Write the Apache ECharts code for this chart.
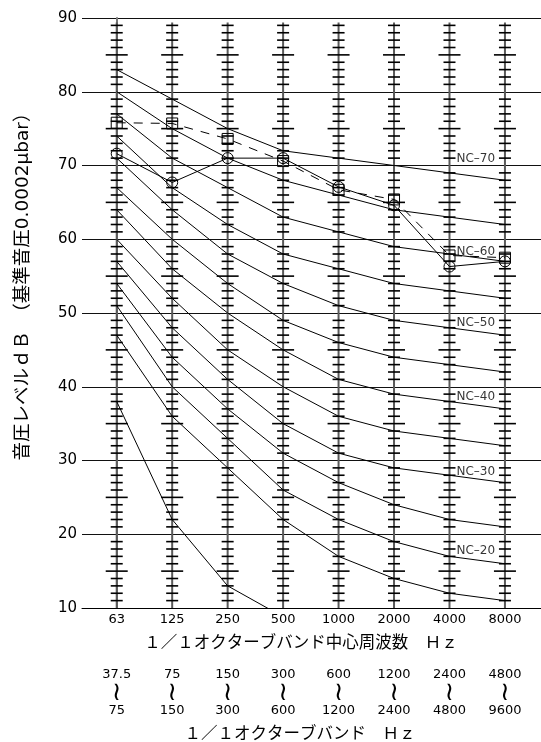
<!DOCTYPE html>
<html>
<head>
<meta charset="utf-8">
<script src="https://cdn.jsdelivr.net/npm/echarts@6/dist/echarts.min.js"></script>
<style>
html,body{margin:0;padding:0;background:#fff;}
#chart{width:541px;height:742px;}
</style>
</head>
<body>
<div id="chart"></div>
<script>
// Octave band centre frequencies (Hz)
const categories = ['63', '125', '250', '500', '1000', '2000', '4000', '8000'];
// Octave band limits (Hz)
const bandLow  = ['37.5', '75', '150', '300', '600', '1200', '2400', '4800'];
const bandHigh = ['75', '150', '300', '600', '1200', '2400', '4800', '9600'];

// NC curves (dB) at the 8 octave bands
const ncBase = [38, 22, 13, 8.8];               // lowest curve (runs off the bottom)
const nc15 = [47, 36, 29, 22, 17, 14, 12, 11];
const nc20 = [51, 40, 33, 26, 22, 19, 17, 16];
const nc25 = [54, 44, 37, 31, 27, 24, 22, 21];
const nc30 = [57, 48, 41, 35, 31, 29, 28, 27];
const nc35 = [60, 52, 45, 40, 36, 34, 33, 32];
const nc40 = [64, 56, 50, 45, 41, 39, 38, 37];
const nc45 = [67, 60, 54, 49, 46, 44, 43, 42];
const nc50 = [71, 64, 58, 54, 51, 49, 48, 47];
const nc55 = [74, 67, 62, 58, 56, 54, 53, 52];
const nc60 = [77, 71, 67, 63, 61, 59, 58, 57];
const nc65 = [80, 75, 71, 68, 66, 64, 63, 62];
const nc70 = [83, 79, 75, 72, 71, 70, 69, 68];

// Measured spectra (dB)
const measuredCircle = [71.6, 67.7, 71.0, 71.0, 67.1, 64.6, 56.3, 57.0];
const measuredSquare = [75.8, 75.7, 73.6, 70.6, 66.7, 65.4, 57.8, 57.5];

// NC curve labels (placed beside the 4000 Hz column) and their level (dB)
const ncLabelText  = ['NC–70', 'NC–60', 'NC–50', 'NC–40', 'NC–30', 'NC–20'];
const ncLabelLevel = [70.9, 58.3, 48.6, 38.6, 28.4, 17.8];
const ncLabelBand  = 6;

const ncCurves = [ncBase, nc15, nc20, nc25, nc30, nc35, nc40, nc45, nc50, nc55, nc60, nc65, nc70];

const idx = categories.map((c, i) => i);
const toXY = arr => arr.map((v, i) => [i, v]);

const chart = echarts.init(document.getElementById('chart'), null, {renderer: 'canvas'});

const series = [];

// Column scales at each band
series.push({
  type: 'custom',
  silent: true,
  z: 1,
  xAxisIndex: 0, yAxisIndex: 0,
  data: idx.map(i => [i, 50]),
  renderItem: function (params, api) {
    const x = api.value(0);
    const top = api.coord([x, 89.4]);
    const bot = api.coord([x, 10]);
    const children = [{
      type: 'line',
      shape: {x1: top[0], y1: top[1], x2: bot[0], y2: bot[1]},
      style: {stroke: '#5a5a5a', lineWidth: 2}
    }];
    for (let v = 11; v <= 89; v++) {
      if (v % 10 === 0) continue;
      const p = api.coord([x, v]);
      const h = (v % 5 === 0) ? 11 : 6;
      children.push({
        type: 'line',
        shape: {x1: p[0] - h, y1: p[1], x2: p[0] + h, y2: p[1]},
        style: {stroke: '#000', lineWidth: 1.6}
      });
    }
    return {type: 'group', children: children};
  }
});

ncCurves.forEach(c => {
  series.push({
    type: 'line',
    data: toXY(c),
    symbol: 'none',
    silent: true,
    clip: true,
    z: 3,
    lineStyle: {color: '#000', width: 1}
  });
});

series.push({
  type: 'line',
  data: toXY(measuredSquare),
  symbol: 'rect',
  symbolSize: [11, 11],
  z: 4,
  lineStyle: {color: '#000', width: 1, type: [9, 8]},
  itemStyle: {color: 'rgba(0,0,0,0)', borderColor: '#000', borderWidth: 1}
});
series.push({
  type: 'line',
  data: toXY(measuredCircle),
  symbol: 'circle',
  symbolSize: 11,
  z: 4,
  lineStyle: {color: '#000', width: 1},
  itemStyle: {color: 'rgba(0,0,0,0)', borderColor: '#000', borderWidth: 1}
});

series.push({
  type: 'scatter',
  symbolSize: 0,
  silent: true,
  z: 5,
  data: ncLabelText.map((t, i) => ({name: t, value: [ncLabelBand, ncLabelLevel[i]]})),
  label: {
    show: true,
    position: 'right',
    distance: 7,
    formatter: p => p.name,
    fontFamily: 'DejaVu Sans',
    fontSize: 12,
    color: '#000'
  }
});

const option = {
  animation: false,
  backgroundColor: '#fff',
  grid: {left: 82, right: 0, top: 18, bottom: 134, containLabel: false},
  xAxis: [{
    type: 'value',
    min: -0.626,
    max: 7.65,
    axisLine: {show: true, lineStyle: {color: '#000', width: 1}},
    axisTick: {show: false},
    splitLine: {show: false},
    axisLabel: {
      customValues: idx,
      formatter: v => categories[Math.round(v)],
      fontFamily: 'DejaVu Sans',
      fontSize: 13,
      color: '#000',
      margin: 5
    }
  }, {
    type: 'value',
    min: -0.626,
    max: 7.65,
    position: 'bottom',
    offset: 52,
    axisLine: {show: false},
    axisTick: {show: false},
    splitLine: {show: false},
    axisLabel: {
      customValues: idx,
      formatter: v => {
        const i = Math.round(v);
        return '{a|' + bandLow[i] + '}\n{s|≀}\n{a|' + bandHigh[i] + '}';
      },
      margin: 6,
      rich: {
        a: {fontFamily: 'DejaVu Sans', fontSize: 13, color: '#000', lineHeight: 18},
        s: {fontFamily: 'DejaVu Sans', fontSize: 26, color: '#000', lineHeight: 18}
      }
    }
  }],
  yAxis: {
    type: 'value',
    min: 10,
    max: 90,
    interval: 10,
    axisLine: {show: true, lineStyle: {color: '#777', width: 2}},
    axisTick: {show: false},
    splitLine: {show: true, lineStyle: {color: '#111', width: 1}},
    axisLabel: {
      fontFamily: 'DejaVu Sans',
      fontSize: 15,
      color: '#000',
      margin: 5
    }
  },
  graphic: [{
    type: 'text',
    x: 23,
    y: 282,
    rotation: Math.PI / 2,
    style: {
      text: '音圧レベルｄＢ　（基準音圧0.0002μbar）',
      font: '18.5px "DejaVu Sans", "Noto Sans CJK JP"',
      fill: '#000',
      textAlign: 'center',
      textVerticalAlign: 'middle'
    }
  }, {
    type: 'text',
    x: 301,
    y: 642,
    style: {
      text: '１／１オクターブバンド中心周波数　Ｈｚ',
      font: '16.5px "Noto Sans CJK JP"',
      fill: '#000',
      textAlign: 'center',
      textVerticalAlign: 'middle'
    }
  }, {
    type: 'text',
    x: 300,
    y: 733,
    style: {
      text: '１／１オクターブバンド　Ｈｚ',
      font: '16.5px "Noto Sans CJK JP"',
      fill: '#000',
      textAlign: 'center',
      textVerticalAlign: 'middle'
    }
  }],
  series: series
};

chart.setOption(option);
</script>
</body>
</html>
